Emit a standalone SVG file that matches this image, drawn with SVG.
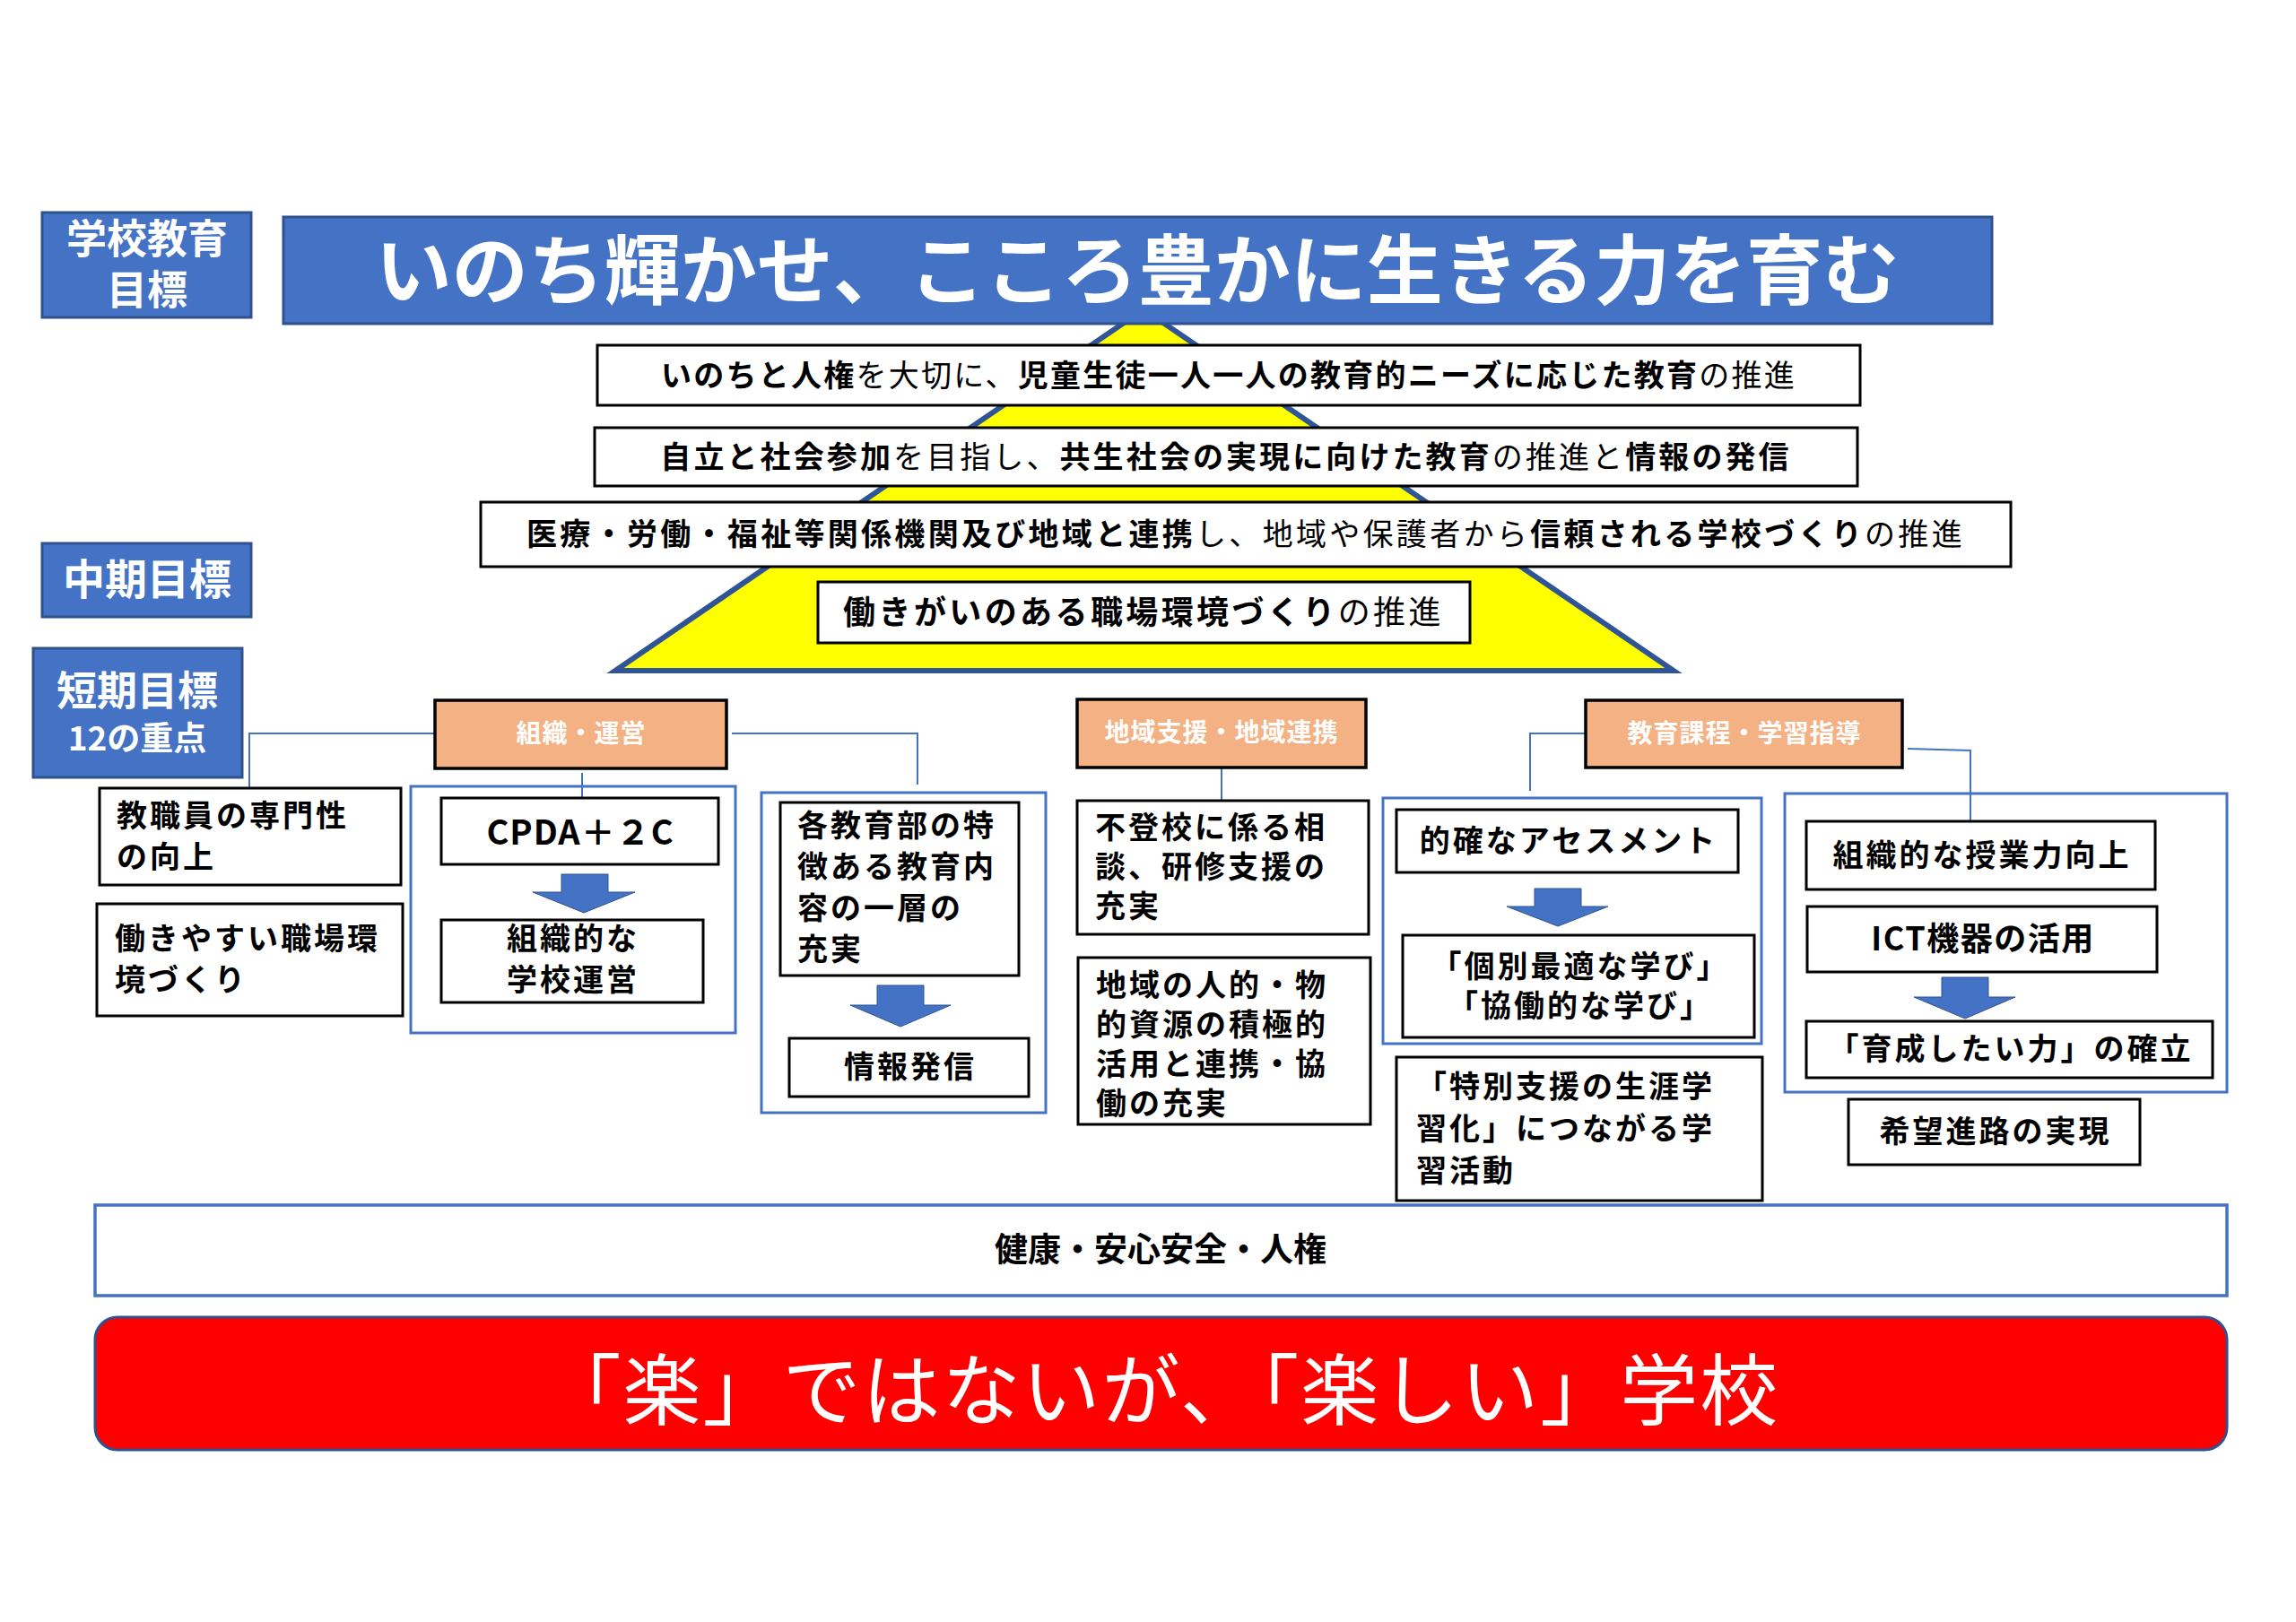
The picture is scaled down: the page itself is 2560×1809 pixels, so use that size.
<svg xmlns="http://www.w3.org/2000/svg" width="2560" height="1809" viewBox="0 0 2560 1809">
<defs>
<style>
.bx{fill:#fff;stroke:#000;stroke-width:3}
.lbl{fill:#4472C4;stroke:#2F528F;stroke-width:3}
.org{fill:#F4B183;stroke:#000;stroke-width:3.5}
.grp{fill:none;stroke:#4472C4;stroke-width:3}
.con{fill:none;stroke:#4472C4;stroke-width:2}
.arr{fill:#4472C4;stroke:#2F528F;stroke-width:1}
text{font-family:"Noto Sans CJK JP","Noto Sans CJK SC",sans-serif;dominant-baseline:central}
.t{font-size:34px;font-weight:bold;fill:#000;letter-spacing:3px}
.w{fill:#fff;font-weight:bold}
.r{font-weight:normal}
.m{text-anchor:middle}
</style>
</defs>
<rect width="2560" height="1809" fill="#fff"/>

<g id="pyramid">
<polygon points="1275,345 1866,748 686,748" fill="#FFFF00" stroke="#2F5597" stroke-width="6" stroke-linejoin="miter"/>
</g>

<g id="title">
<rect class="lbl" x="316" y="242" width="1905" height="119"/>
<text class="w m" x="1268" y="295" font-size="85">いのち輝かせ、こころ豊かに生きる力を育む</text>
</g>

<g id="label-school-goal">
<rect class="lbl" x="47" y="237" width="233" height="117"/>
<text class="w m" font-size="45"><tspan x="164" y="263">学校教育</tspan><tspan x="164" y="320">目標</tspan></text>
</g>
<g id="label-mid-goal">
<rect class="lbl" x="47" y="606" width="233" height="82"/>
<text class="w m" x="164" y="642" font-size="47">中期目標</text>
</g>
<g id="label-short-goal">
<rect class="lbl" x="37" y="723" width="233" height="144"/>
<text class="w m" font-size="45"><tspan x="153" y="767">短期目標</tspan><tspan x="153" y="821" font-size="37">12の重点</tspan></text>
</g>

<g id="mid1">
<rect class="bx" x="666" y="385" width="1408" height="67"/>
<text class="t m" x="1370" y="416" style="letter-spacing:2.25px">いのちと人権<tspan class="r">を大切に、</tspan>児童生徒一人一人の教育的ニーズに応じた教育<tspan class="r">の推進</tspan></text>
</g>
<g id="mid2">
<rect class="bx" x="663" y="477" width="1408" height="65"/>
<text class="t m" x="1367" y="507" style="letter-spacing:3.1px">自立と社会参加<tspan class="r">を目指し、</tspan>共生社会の実現に向けた教育<tspan class="r">の推進と</tspan>情報の発信</text>
</g>
<g id="mid3">
<rect class="bx" x="536" y="560" width="1706" height="72"/>
<text class="t m" x="1389" y="593" style="letter-spacing:3.3px">医療・労働・福祉等関係機関及び地域と連携<tspan class="r">し、地域や保護者から</tspan>信頼される学校づくり<tspan class="r">の推進</tspan></text>
</g>
<g id="mid4">
<rect class="bx" x="912" y="649" width="727" height="68"/>
<text class="t m" x="1275" y="680" style="font-size:36px;letter-spacing:3.4px">働きがいのある職場環境づくり<tspan class="r">の推進</tspan></text>
</g>

<g id="connectors">
<path class="con" d="M485,818 H278 V881"/>
<path class="con" d="M816,818 H1023 V875"/>
<path class="con" d="M649,862 V889"/>
<path class="con" d="M1362,856 V892"/>
<path class="con" d="M1768,818 H1706 V882"/>
<path class="con" d="M2127,835 L2197,837 V915"/>
</g>

<g id="cat-org">
<rect class="org" x="485" y="781" width="325" height="76"/>
<text class="w m" x="648" y="816" font-size="28" style="letter-spacing:1px">組織・運営</text>
</g>
<g id="cat-community">
<rect class="org" x="1201" y="780" width="322" height="76"/>
<text class="w m" x="1362" y="815" font-size="28" style="letter-spacing:1px">地域支援・地域連携</text>
</g>
<g id="cat-curriculum">
<rect class="org" x="1768" y="781" width="353" height="75"/>
<text class="w m" x="1945" y="816" font-size="28" style="letter-spacing:1px">教育課程・学習指導</text>
</g>

<g id="n-staff">
<rect class="bx" x="111" y="879" width="336" height="108"/>
<text class="t" x="130" y="907">教職員の専門性</text>
<text class="t" x="130" y="953">の向上</text>
</g>
<g id="n-workplace">
<rect class="bx" x="108" y="1008" width="341" height="125"/>
<text class="t" x="128" y="1044">働きやすい職場環</text>
<text class="t" x="128" y="1090">境づくり</text>
</g>

<g id="grp-cpda">
<rect class="grp" x="458" y="877" width="362" height="275"/>
</g>
<g id="n-cpda">
<rect class="bx" x="492" y="890" width="309" height="74"/>
<text class="t m" x="647" y="925" style="font-size:38px;letter-spacing:1px">CPDA＋２C</text>
</g>
<g id="arrow-cpda">
<polygon class="arr" points="626,975 678,975 678,995 708,995 651,1018 594,995 626,995"/>
</g>
<g id="n-orgmgmt">
<rect class="bx" x="492" y="1026" width="292" height="92"/>
<text class="t m" x="639" y="1044">組織的な</text>
<text class="t m" x="639" y="1090">学校運営</text>
</g>

<g id="grp-dept">
<rect class="grp" x="849" y="884" width="317" height="357"/>
</g>
<g id="n-dept">
<rect class="bx" x="870" y="895" width="266" height="193"/>
<text class="t" x="889" y="918">各教育部の特</text>
<text class="t" x="889" y="964">徴ある教育内</text>
<text class="t" x="889" y="1010">容の一層の</text>
<text class="t" x="889" y="1056">充実</text>
</g>
<g id="arrow-dept">
<polygon class="arr" points="978,1099 1030,1099 1030,1121 1060,1121 1004,1145 948,1121 978,1121"/>
</g>
<g id="n-info">
<rect class="bx" x="880" y="1158" width="267" height="65"/>
<text class="t m" x="1015" y="1187">情報発信</text>
</g>

<g id="n-futoko">
<rect class="bx" x="1201" y="893" width="325" height="149"/>
<text class="t" x="1221" y="920">不登校に係る相</text>
<text class="t" x="1221" y="964">談、研修支援の</text>
<text class="t" x="1221" y="1008">充実</text>
</g>
<g id="n-resources">
<rect class="bx" x="1202" y="1068" width="326" height="186"/>
<text class="t" x="1222" y="1096">地域の人的・物</text>
<text class="t" x="1222" y="1140">的資源の積極的</text>
<text class="t" x="1222" y="1184">活用と連携・協</text>
<text class="t" x="1222" y="1228">働の充実</text>
</g>

<g id="grp-assess">
<rect class="grp" x="1542" y="890" width="422" height="274"/>
</g>
<g id="n-assess">
<rect class="bx" x="1557" y="903" width="381" height="70"/>
<text class="t m" x="1749" y="935">的確なアセスメント</text>
</g>
<g id="arrow-assess">
<polygon class="arr" points="1711,991 1763,991 1763,1011 1793,1011 1737,1033 1680,1011 1711,1011"/>
</g>
<g id="n-learning">
<rect class="bx" x="1564" y="1043" width="392" height="114"/>
<text class="t m" x="1762" y="1075">「個別最適な学び」</text>
<text class="t m" x="1762" y="1119">「協働的な学び」</text>
</g>
<g id="n-lifelong">
<rect class="bx" x="1557" y="1179" width="408" height="160"/>
<text class="t" x="1579" y="1209">「特別支援の生涯学</text>
<text class="t" x="1579" y="1256">習化」につながる学</text>
<text class="t" x="1579" y="1303">習活動</text>
</g>

<g id="grp-teaching">
<rect class="grp" x="1990" y="885" width="493" height="333"/>
</g>
<g id="n-teaching">
<rect class="bx" x="2014" y="916" width="389" height="76"/>
<text class="t m" x="2210" y="951">組織的な授業力向上</text>
</g>
<g id="n-ict">
<rect class="bx" x="2015" y="1011" width="390" height="73"/>
<text class="t m" x="2211" y="1044" style="font-size:36px;letter-spacing:1.5px">ICT機器の活用</text>
</g>
<g id="arrow-ict">
<polygon class="arr" points="2165,1090 2217,1090 2217,1112 2247,1112 2191,1136 2134,1112 2165,1112"/>
</g>
<g id="n-ability">
<rect class="bx" x="2014" y="1139" width="453" height="63"/>
<text class="t m" x="2242" y="1167">「育成したい力」の確立</text>
</g>
<g id="n-career">
<rect class="bx" x="2061" y="1226" width="325" height="73"/>
<text class="t m" x="2225" y="1259">希望進路の実現</text>
</g>

<g id="base-health">
<rect x="106" y="1344" width="2377" height="101" fill="#fff" stroke="#4472C4" stroke-width="3.5"/>
<text class="m" x="1294" y="1391" font-size="37" font-weight="bold" fill="#000">健康・安心安全・人権</text>
</g>
<g id="slogan">
<rect x="106" y="1469" width="2377" height="148" rx="25" ry="25" fill="#FF0000" stroke="#2F528F" stroke-width="3"/>
<text class="m" x="1295" y="1545" font-size="87" fill="#fff" style="letter-spacing:2px">「楽」ではないが、「楽しい」学校</text>
</g>
</svg>
